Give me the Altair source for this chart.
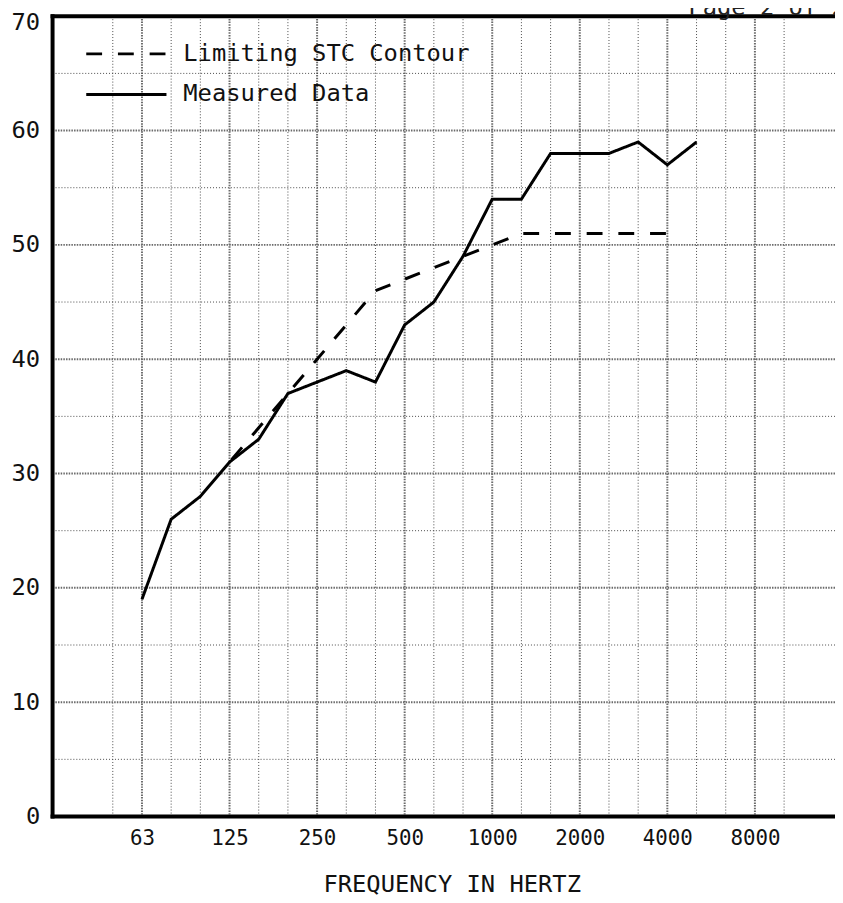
import altair as alt
import pandas as pd

# ---- data ----
bands = ["50", "63", "80", "100", "125", "160", "200", "250", "315", "400", "500",
         "630", "800", "1000", "1250", "1600", "2000", "2500", "3150", "4000",
         "5000", "6300", "8000", "10000"]
octave_bands = ["63", "125", "250", "500", "1000", "2000", "4000", "8000"]

measured_bands = ["63", "80", "100", "125", "160", "200", "250", "315", "400", "500",
                  "630", "800", "1000", "1250", "1600", "2000", "2500", "3150", "4000", "5000"]
measured_values = [19, 26, 28, 31, 33, 37, 38, 39, 38, 43,
                   45, 49, 54, 54, 58, 58, 58, 59, 57, 59]

contour_bands = ["125", "160", "200", "250", "315", "400", "500", "630",
                 "800", "1000", "1250", "1600", "2000", "2500", "3150", "4000"]
contour_values = [31, 34, 37, 40, 43, 46, 47, 48, 49, 50, 51, 51, 51, 51, 51, 51]

y_major = [0, 10, 20, 30, 40, 50, 60, 70]
y_minor = [5, 15, 25, 35, 45, 55, 65]

series_names = ["Limiting STC Contour", "Measured Data"]
x_title = "FREQUENCY IN HERTZ"
page_text = "Page 2 of 2"

# ---- tables ----
rows = []
for f, v in zip(contour_bands, contour_values):
    rows.append({"series": series_names[0], "idx": bands.index(f), "value": v})
for f, v in zip(measured_bands, measured_values):
    rows.append({"series": series_names[1], "idx": bands.index(f), "value": v})
lines_df = pd.DataFrame(rows)

octave_idx = [bands.index(b) for b in octave_bands]
vgrid_major = pd.DataFrame({"idx": octave_idx})
vgrid_minor = pd.DataFrame({"idx": [i for i in range(len(bands)) if i not in octave_idx]})
hgrid_major = pd.DataFrame({"value": y_major[1:-1]})
hgrid_minor = pd.DataFrame({"value": y_minor})
one = pd.DataFrame({"k": [0]})

W, H = 790, 808
FONT = "DejaVu Sans Mono"

x_scale = alt.Scale(domain=[-2.063, 24.744], nice=False, zero=False)
y_scale = alt.Scale(domain=[0, 70], nice=False, zero=False)

label_expr = "[" + ",".join("'%s'" % b for b in bands) + "][datum.value]"

x_axis = alt.Axis(values=octave_idx, labelExpr=label_expr, grid=False, ticks=False,
                  domain=False, labelFont=FONT, labelFontSize=21, labelColor="#111",
                  labelPadding=11, labelFlush=False, labelOverlap=False,
                  title=x_title, titleFont=FONT, titleFontSize=24,
                  titleFontWeight="normal", titleColor="#111",
                  titleX=403, titleY=76, titleAlign="center",
                  titleBaseline="alphabetic")
y_axis = alt.Axis(values=y_major, grid=False, ticks=False, domain=False,
                  labelFont=FONT, labelFontSize=24, labelColor="#111",
                  labelPadding=13, labelFlush=False, labelOverlap=False,
                  labelOffset={"condition": {"test": "datum.value == 70", "value": 6}, "value": 0},
                  title=None)

X = alt.X("idx:Q", scale=x_scale, axis=x_axis)
Y = alt.Y("value:Q", scale=y_scale, axis=y_axis)

vminor = alt.Chart(vgrid_minor).mark_rule(
    color="#4a4a4a", strokeWidth=1, strokeDash=[1, 2]
).encode(x=X)

vmajor = alt.Chart(vgrid_major).mark_rule(
    color="#6a6a6a", strokeWidth=2, strokeDash=[1.5, 1.2]
).encode(x=X)

hminor = alt.Chart(hgrid_minor).mark_rule(
    color="#4a4a4a", strokeWidth=1, strokeDash=[1, 2]
).encode(y=Y)

hmajor = alt.Chart(hgrid_major).mark_rule(
    color="#6a6a6a", strokeWidth=2, strokeDash=[1.5, 1.2]
).encode(y=Y)

frame_top = alt.Chart(one).mark_rule(color="black", strokeWidth=4, strokeCap="square").encode(y=alt.value(0))
frame_bottom = alt.Chart(one).mark_rule(color="black", strokeWidth=4, strokeCap="square").encode(y=alt.value(H))
frame_left = alt.Chart(one).mark_rule(color="black", strokeWidth=4, strokeCap="square").encode(x=alt.value(0))

lines = alt.Chart(lines_df).mark_line(
    color="black", strokeWidth=3, strokeDashOffset=-3.5
).encode(
    x=X,
    y=Y,
    strokeDash=alt.StrokeDash(
        "series:N",
        scale=alt.Scale(domain=series_names, range=[[16, 16], [1, 0]]),
        legend=alt.Legend(orient="none", legendX=32.5, legendY=17.5, title=None,
                          symbolType="stroke", symbolSize=6561, symbolStrokeWidth=3,
                          symbolStrokeColor="black", labelFont=FONT, labelFontSize=24,
                          labelColor="#111", labelOffset=15.5, labelLimit=500,
                          clipHeight=41, rowPadding=0, padding=0)),
    detail="series:N",
)

page = alt.Chart(one).mark_text(
    text=page_text, align="left", baseline="alphabetic", font=FONT, fontSize=24, color="#222"
).encode(x=alt.value(642), y=alt.value(-1))

chart = alt.layer(
    vminor, vmajor, hminor, hmajor, lines, frame_top, frame_bottom, frame_left, page
).properties(
    width=W, height=H,
    autosize=alt.AutoSizeParams(type="none"),
    padding={"left": 45, "top": 4, "right": 0, "bottom": 80},
    background="white",
).configure_view(strokeWidth=0)

chart.save("out.html", embed_options={"renderer": "svg", "actions": False})
